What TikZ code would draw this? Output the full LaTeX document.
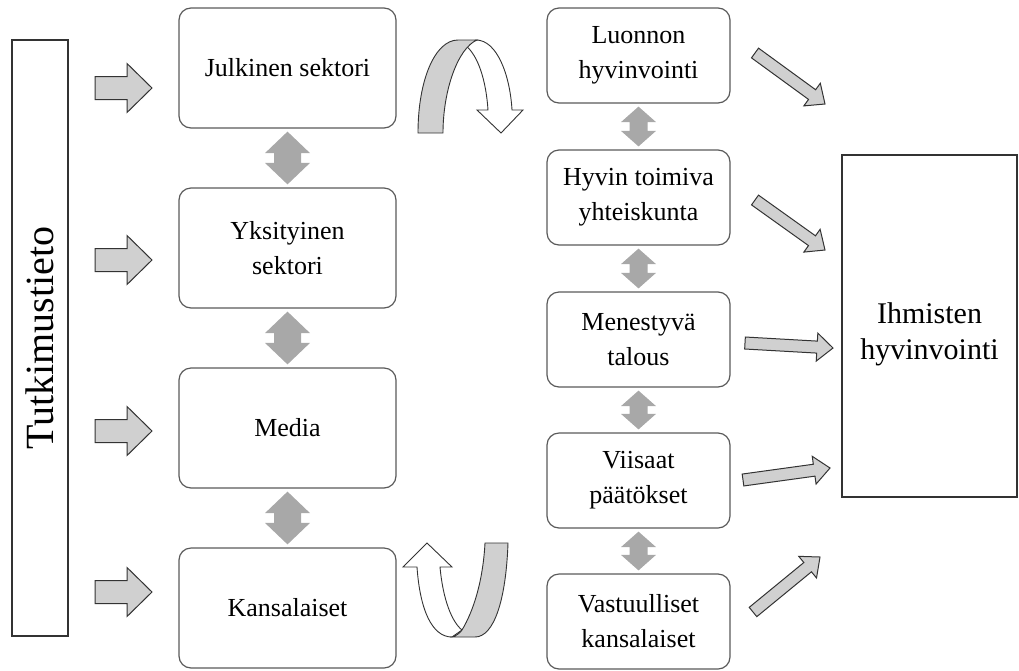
\documentclass[tikz,border=0pt]{standalone}
\usepackage{fontspec}
\setmainfont{Liberation Serif}
\usetikzlibrary{calc}

\definecolor{boxline}{HTML}{5A5A5A}
\definecolor{darkline}{HTML}{333333}
\definecolor{arrowfill}{HTML}{D0D0D0}
\definecolor{linkfill}{HTML}{A8A8A8}

\newcommand{\boxfont}{\fontsize{26}{35}\selectfont}

% block arrow from #1 to #2: shaft half-width #3, head half-width #4, head length #5
\newcommand{\blockarrow}[5]{%
  \filldraw[barrow]
    ($(#1)!#3!90:(#2)$)
    -- ($(#2)!#5!(#1)!#3!-90:(#1)$)
    -- ($(#2)!#5!(#1)!#4!-90:(#1)$)
    -- (#2)
    -- ($(#2)!#5!(#1)!#4!90:(#1)$)
    -- ($(#2)!#5!(#1)!#3!90:(#1)$)
    -- ($(#1)!#3!-90:(#2)$) -- cycle;}

% two-headed link between #1 and #2: stem half-width #3, head half-width #4, head length #5
\newcommand{\twoway}[5]{%
  \fill[linkfill]
    (#1)
    -- ($(#1)!#5!(#2)!#4!90:(#2)$)
    -- ($(#1)!#5!(#2)!#3!90:(#2)$)
    -- ($(#2)!#5!(#1)!#3!-90:(#1)$)
    -- ($(#2)!#5!(#1)!#4!-90:(#1)$)
    -- (#2)
    -- ($(#2)!#5!(#1)!#4!90:(#1)$)
    -- ($(#2)!#5!(#1)!#3!90:(#1)$)
    -- ($(#1)!#5!(#2)!#3!-90:(#2)$)
    -- ($(#1)!#5!(#2)!#4!-90:(#2)$) -- cycle;}

\tikzset{
  lbox/.style={draw=boxline, line width=1.2pt, rounded corners=12pt, fill=white,
    align=center, font=\boxfont, inner sep=0pt,
    minimum width=217pt, minimum height=120pt},
  mbox/.style={draw=boxline, line width=1.2pt, rounded corners=12pt, fill=white,
    align=center, font=\boxfont, inner sep=0pt,
    minimum width=183pt, minimum height=95pt},
  sidebox/.style={draw=darkline, line width=1.2pt, inner sep=0pt},
  barrow/.style={draw=darkline, fill=arrowfill, line width=1pt, line join=miter},
  ribbonback/.style={draw=darkline, fill=arrowfill, line width=0.9pt},
  ribbonfront/.style={draw=darkline, fill=white, line width=0.9pt}
}

\begin{document}
\begin{tikzpicture}[x=1pt,y=-1pt]
\useasboundingbox (0,0) rectangle (1019,670);

% source of knowledge
\node[sidebox, rotate=90, minimum width=596pt, minimum height=56pt,
      font=\fontsize{40}{40}\selectfont] (tk) at (40,338) {Tutkimustieto};

% actors
\node[lbox] (jul) at (287.5,68)  {Julkinen sektori};
\node[lbox] (yks) at (287.5,248) {Yksityinen\\sektori};
\node[lbox] (med) at (287.5,428) {Media};
\node[lbox] (kan) at (287.5,608) {Kansalaiset};

% outcomes
\node[mbox] (luo) at (638.5,55.5)  {Luonnon\\hyvinvointi};
\node[mbox] (hyv) at (638.5,197.5) {Hyvin toimiva\\yhteiskunta};
\node[mbox] (men) at (638.5,339.5) {Menestyvä\\talous};
\node[mbox] (vii) at (638.5,480.5) {Viisaat\\päätökset};
\node[mbox] (vas) at (638.5,621.5) {Vastuulliset\\kansalaiset};

% final goal
\node[sidebox, minimum width=175pt, minimum height=342pt] (ihm) at (929.5,326) {};
\node[align=center, inner sep=0pt, font=\fontsize{30}{36}\selectfont]
  (ihmtext) at ($(ihm.center)+(0,8)$) {Ihmisten\\hyvinvointi};

% knowledge flowing to the actors
\coordinate (k1s) at (95,88);  \coordinate (k1e) at (152,88);
\coordinate (k2s) at (95,260); \coordinate (k2e) at (152,260);
\coordinate (k3s) at (95,431); \coordinate (k3e) at (152,431);
\coordinate (k4s) at (95,592); \coordinate (k4e) at (152,592);
\blockarrow{k1s}{k1e}{11.5pt}{24.5pt}{25pt}
\blockarrow{k2s}{k2e}{11.5pt}{24.5pt}{25pt}
\blockarrow{k3s}{k3e}{11.5pt}{24.5pt}{25pt}
\blockarrow{k4s}{k4e}{11.5pt}{24.5pt}{25pt}

% links between actors
\twoway{$(jul.south)+(0,3)$}{$(yks.north)+(0,-3)$}{13.5pt}{22.5pt}{21.5pt}
\twoway{$(yks.south)+(0,3)$}{$(med.north)+(0,-3)$}{13.5pt}{22.5pt}{21.5pt}
\twoway{$(med.south)+(0,3)$}{$(kan.north)+(0,-3)$}{13.5pt}{22.5pt}{21.5pt}

% links between outcomes
\twoway{$(luo.south)+(0,3)$}{$(hyv.north)+(0,-3)$}{9pt}{17.5pt}{15.5pt}
\twoway{$(hyv.south)+(0,3)$}{$(men.north)+(0,-3)$}{9pt}{17.5pt}{15.5pt}
\twoway{$(men.south)+(0,3)$}{$(vii.north)+(0,-3)$}{9pt}{17.5pt}{15.5pt}
\twoway{$(vii.south)+(0,3)$}{$(vas.north)+(0,-3)$}{9pt}{17.5pt}{15.5pt}

% outcomes feeding human wellbeing
\coordinate (o1s) at (755,53);  \coordinate (o1e) at (825,104);
\coordinate (o2s) at (755,200); \coordinate (o2e) at (825,250);
\coordinate (o3s) at (745,343); \coordinate (o3e) at (833,348);
\coordinate (o4s) at (743,480); \coordinate (o4e) at (830,468);
\coordinate (o5s) at (753,612); \coordinate (o5e) at (820,557);
\blockarrow{o1s}{o1e}{6pt}{14pt}{16pt}
\blockarrow{o2s}{o2e}{6pt}{14pt}{16pt}
\blockarrow{o3s}{o3e}{6pt}{14pt}{16pt}
\blockarrow{o4s}{o4e}{6pt}{14pt}{16pt}
\blockarrow{o5s}{o5e}{6pt}{14pt}{16pt}

% ribbon arrow: actors -> outcomes (top)
\filldraw[ribbonfront] (476,40) .. controls (497,40) and (510,75) .. (512,110)
  -- (523,110) -- (501,133) -- (477,110) -- (488,110)
  .. controls (486,80) and (478,55) .. (465,45) -- cycle;
\filldraw[ribbonback] (418,133) .. controls (418,80) and (435,40) .. (458,40)
  -- (477,40) .. controls (458,48) and (443,90) .. (443,133) -- cycle;

% ribbon arrow: outcomes -> actors (bottom)
\filldraw[ribbonfront] (417,567) -- (403,567) -- (427,543) -- (452,567) -- (440,567)
  .. controls (443,600) and (452,622) .. (462,630) -- (452,637)
  .. controls (432,637) and (420,610) .. (417,567) -- cycle;
\filldraw[ribbonback] (485,543) -- (508,543) .. controls (506,600) and (494,637) .. (475,637)
  -- (452,637) .. controls (456,636) and (460,633) .. (462,630)
  .. controls (474,610) and (483,580) .. (485,543) -- cycle;

\end{tikzpicture}
\end{document}
